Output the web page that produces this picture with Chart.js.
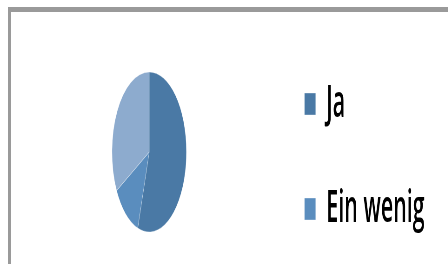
<!DOCTYPE html>
<html>
<head>
<meta charset="utf-8">
<script src="https://cdn.jsdelivr.net/npm/chart.js@4/dist/chart.umd.min.js"></script>
<style>
  html, body { margin: 0; padding: 0; background: #fff; }
  .wrap { position: relative; width: 448px; height: 264px; overflow: hidden; background: #fff; }
  .frame { position: absolute; left: 8px; top: 7px; right: -10px; bottom: -10px;
           border-top: 5px solid #9a9a9a; border-left: 3px solid #9a9a9a; }
  /* the original picture is squeezed sideways, so the chart is too */
  .holder { position: absolute; left: 0; top: -92px; width: 963px; height: 488px;
            transform: scaleX(0.465); transform-origin: 0 0; }
</style>
</head>
<body>
<div class="wrap">
  <div class="frame"></div>
  <div class="holder"><canvas id="pieChart"></canvas></div>
</div>
<script>
// Data
const labels = ['Ja', 'Ein wenig', 'Nein'];
const values = [55, 12, 33];
const colors = ['#4A79A5', '#5A8DBE', '#8DABCE'];

const ctx = document.getElementById('pieChart').getContext('2d');

const pieChart = new Chart(ctx, {
    type: 'pie',
    data: {
        labels: labels,
        datasets: [{
            data: values,
            backgroundColor: colors,
            borderColor: 'rgba(255, 255, 255, 0.35)',
            borderWidth: 1
        }]
    },
    options: {
        responsive: true,
        maintainAspectRatio: false,
        animation: false,
        radius: 80,
        layout: {
            padding: { left: 46, right: 40, top: 0, bottom: 0 }
        },
        plugins: {
            legend: {
                position: 'right',
                align: 'end',
                labels: {
                    boxWidth: 24,
                    boxHeight: 22,
                    padding: 59,
                    color: '#000',
                    font: { family: 'Open Sans', size: 46, weight: '600' }
                }
            },
            tooltip: { enabled: false }
        }
    }
});
</script>
</body>
</html>
